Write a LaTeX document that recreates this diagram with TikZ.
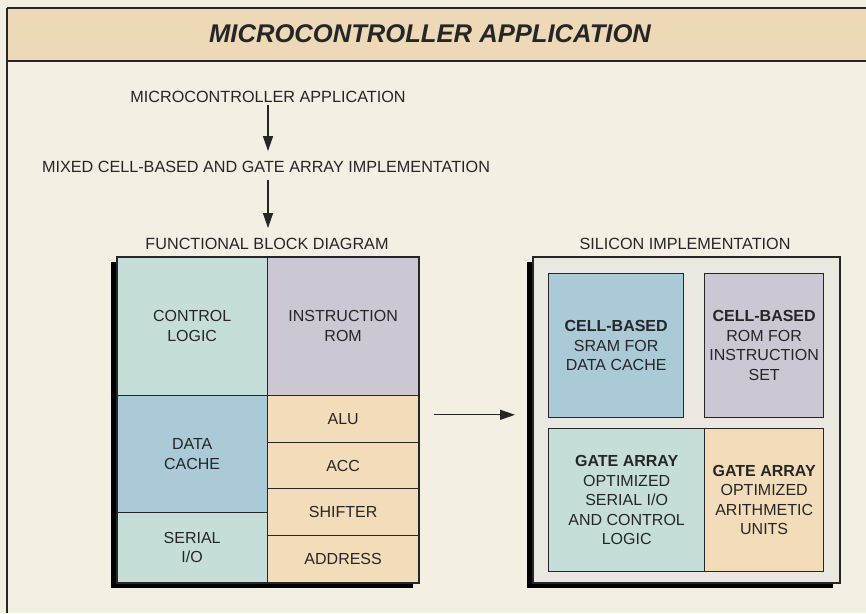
\documentclass[tikz,border=0pt]{standalone}
\usepackage{fontspec}
\setmainfont{Liberation Sans}
\usetikzlibrary{arrows.meta, positioning, calc}

\definecolor{paper}{HTML}{F4EFE3}
\definecolor{band}{HTML}{EDD9B8}
\definecolor{tealcell}{HTML}{C6DED9}
\definecolor{bluecell}{HTML}{A9CAD6}
\definecolor{lavcell}{HTML}{CCC7D2}
\definecolor{tancell}{HTML}{F2DCB9}
\definecolor{silicon}{HTML}{EAE8E0}
\definecolor{ink}{HTML}{262626}

\begin{document}
\begin{tikzpicture}[x=1pt, y=-1pt,
    cell/.style={draw=ink, line width=1.3pt, anchor=north west, inner sep=0pt,
                 align=center, text=ink, font=\fontsize{16}{19.5}\selectfont},
    lbl/.style={inner sep=0pt, text=ink, font=\fontsize{16.2}{19.5}\selectfont},
    flow/.style={-{Triangle[length=15pt,width=10pt]}, line width=1.3pt, ink},
    rule/.style={line width=1.6pt, ink}]
    \useasboundingbox (0,0) rectangle (866,613);
    \fill[paper] (0,0) rectangle (866,613);

    % Title band
    \fill[band] (7,8) rectangle (866,61);
    \draw[rule] (7,8) -- (866,8);
    \draw[rule] (7,61) -- (866,61);
    \draw[rule] (7,8) -- (7,613);
    \node[font=\fontsize{25.6}{30}\selectfont\bfseries\itshape, text=ink] (title) at (430,34) {MICROCONTROLLER APPLICATION};

    % Design flow
    \node[lbl] (app) at (268,97) {MICROCONTROLLER APPLICATION};
    \node[lbl] (mixed) at (266,167) {MIXED CELL-BASED AND GATE ARRAY IMPLEMENTATION};
    \node[lbl] (fbdtitle) at (267,244) {FUNCTIONAL BLOCK DIAGRAM};
    \node[lbl] (sititle) at (685,244) {SILICON IMPLEMENTATION};
    \draw[flow, shorten <=2pt, shorten >=10pt] (app.south) -- (app.south |- mixed.north);
    \draw[flow, shorten <=7pt, shorten >=10pt] (app.south |- mixed.south) -- (app.south |- fbdtitle.north);

    % Functional block diagram
    \fill[black] (111,262) rectangle (413,588);
    \node[cell, fill=tealcell, minimum width=151pt, minimum height=139pt] (ctrl) at (116,256) {CONTROL\\LOGIC};
    \node[cell, fill=lavcell, minimum width=151pt, minimum height=139pt] (irom) at (267,256) {INSTRUCTION\\ROM};
    \node[cell, fill=bluecell, minimum width=151pt, minimum height=117pt] (dcache) at (116,395) {DATA\\CACHE};
    \node[cell, fill=tealcell, minimum width=151pt, minimum height=70pt] (sio) at (116,512) {SERIAL\\I/O};
    \node[cell, fill=tancell, minimum width=151pt, minimum height=47pt] (alu) at (267,395) {ALU};
    \node[cell, fill=tancell, minimum width=151pt, minimum height=46pt] (acc) at (267,442) {ACC};
    \node[cell, fill=tancell, minimum width=151pt, minimum height=47pt] (shifter) at (267,488) {SHIFTER};
    \node[cell, fill=tancell, minimum width=151pt, minimum height=47pt] (address) at (267,535) {ADDRESS};
    \node[cell, line width=1.6pt, minimum width=302pt, minimum height=326pt] (fbd) at (116,256) {};

    % Silicon implementation
    \fill[black] (527,262) rectangle (833,588);
    \node[cell, fill=silicon, line width=1.6pt, minimum width=307pt, minimum height=326pt] (si) at (532,256) {};
    \node[cell, fill=bluecell, minimum width=135pt, minimum height=144pt] (sram) at (548,273)
        {\textbf{CELL-BASED}\\SRAM FOR\\DATA CACHE};
    \node[cell, fill=lavcell, minimum width=119pt, minimum height=144pt] (rom) at (704,273)
        {\textbf{CELL-BASED}\\ROM FOR\\INSTRUCTION\\SET};
    \node[cell, fill=tealcell, minimum width=156pt, minimum height=143pt] (gaserial) at (548,428)
        {\textbf{GATE ARRAY}\\OPTIMIZED\\SERIAL I/O\\AND CONTROL\\LOGIC};
    \node[cell, fill=tancell, minimum width=119pt, minimum height=143pt] (gaarith) at (704,428)
        {\textbf{GATE ARRAY}\\OPTIMIZED\\ARITHMETIC\\UNITS};

    % Mapping
    \draw[flow, shorten <=14pt, shorten >=17pt] ([yshift=5pt]fbd.east) -- ([yshift=5pt]si.west);
\end{tikzpicture}
\end{document}
